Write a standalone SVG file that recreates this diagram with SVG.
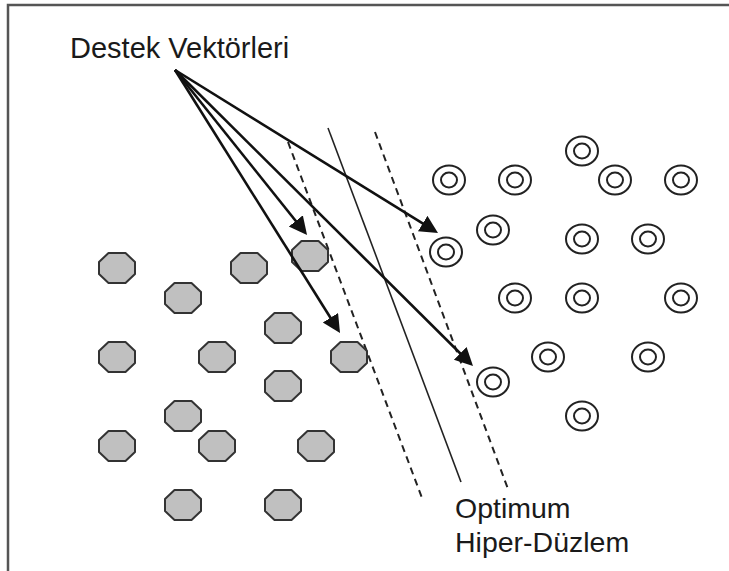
<svg xmlns="http://www.w3.org/2000/svg" xmlns:xlink="http://www.w3.org/1999/xlink" width="729" height="571" viewBox="0 0 729 571">
<style>
.lbl{font-family:"Liberation Sans",Arial,sans-serif;fill:#1a1a1a}
.oct{fill:#c0c0c0;stroke:#333;stroke-width:2;stroke-linejoin:round}
.ring{fill:none;stroke:#222;stroke-width:2}
.arr{stroke:#111;stroke-width:2.6;fill:none;marker-end:url(#ah)}
.dash{stroke:#222;stroke-width:2;stroke-dasharray:7 5;fill:none}
.solid{stroke:#222;stroke-width:1.6;fill:none}
.frame{stroke:#555;stroke-width:2.5;fill:none}
</style>
<defs>
<polygon id="octShape" class="oct" points="-8.5,-15 8.5,-15 18,-6 18,6 8.5,15 -8.5,15 -18,6 -18,-6"/>
<g id="ringShape"><ellipse class="ring" rx="16" ry="14.5"/><ellipse class="ring" rx="8" ry="7.5"/></g>
<marker id="ah" markerUnits="userSpaceOnUse" markerWidth="20" markerHeight="20" viewBox="0 0 20 20" refX="8" refY="9" orient="auto"><path d="M0,0 L18,9 L0,18 z" fill="#111"/></marker>
</defs>
<rect width="729" height="571" fill="#fff"/>
<path class="frame" d="M8,571 V5 H729"/>
<g id="label-destek"><text class="lbl" x="70" y="58" font-size="29">Destek Vektörleri</text></g>
<g id="label-optimum"><text class="lbl" x="455" y="518" font-size="28.5">Optimum</text><text class="lbl" x="455" y="552" font-size="28.5">Hiper-Düzlem</text></g>
<g id="hyperplanes">
<line class="dash" x1="288" y1="142" x2="422" y2="498"/>
<line class="solid" x1="328" y1="128" x2="461" y2="482"/>
<line class="dash" x1="375" y1="132" x2="508" y2="489"/>
</g>
<g id="class-a">
<g id="a1"><use xlink:href="#octShape" x="117" y="268"/></g>
<g id="a2"><use xlink:href="#octShape" x="249" y="268"/></g>
<g id="a3"><use xlink:href="#octShape" x="310" y="256"/></g>
<g id="a4"><use xlink:href="#octShape" x="183" y="298"/></g>
<g id="a5"><use xlink:href="#octShape" x="283" y="328"/></g>
<g id="a6"><use xlink:href="#octShape" x="117" y="357"/></g>
<g id="a7"><use xlink:href="#octShape" x="217" y="357"/></g>
<g id="a8"><use xlink:href="#octShape" x="349" y="357"/></g>
<g id="a9"><use xlink:href="#octShape" x="283" y="386"/></g>
<g id="a10"><use xlink:href="#octShape" x="183" y="416"/></g>
<g id="a11"><use xlink:href="#octShape" x="117" y="446"/></g>
<g id="a12"><use xlink:href="#octShape" x="217" y="446"/></g>
<g id="a13"><use xlink:href="#octShape" x="316" y="446"/></g>
<g id="a14"><use xlink:href="#octShape" x="183" y="505"/></g>
<g id="a15"><use xlink:href="#octShape" x="283" y="505"/></g>
</g>
<g id="class-b">
<g id="b1"><use xlink:href="#ringShape" x="582" y="151"/></g>
<g id="b2"><use xlink:href="#ringShape" x="449" y="180"/></g>
<g id="b3"><use xlink:href="#ringShape" x="515" y="180"/></g>
<g id="b4"><use xlink:href="#ringShape" x="615" y="180"/></g>
<g id="b5"><use xlink:href="#ringShape" x="681" y="180"/></g>
<g id="b6"><use xlink:href="#ringShape" x="493" y="230"/></g>
<g id="b7"><use xlink:href="#ringShape" x="446" y="252"/></g>
<g id="b8"><use xlink:href="#ringShape" x="582" y="239"/></g>
<g id="b9"><use xlink:href="#ringShape" x="648" y="239"/></g>
<g id="b10"><use xlink:href="#ringShape" x="515" y="298"/></g>
<g id="b11"><use xlink:href="#ringShape" x="582" y="298"/></g>
<g id="b12"><use xlink:href="#ringShape" x="681" y="298"/></g>
<g id="b13"><use xlink:href="#ringShape" x="548" y="357"/></g>
<g id="b14"><use xlink:href="#ringShape" x="648" y="357"/></g>
<g id="b15"><use xlink:href="#ringShape" x="493" y="382"/></g>
<g id="b16"><use xlink:href="#ringShape" x="582" y="416"/></g>
</g>
<g id="connectors">
<line class="arr" x1="175" y1="70" x2="300.8" y2="227.2"/>
<line class="arr" x1="175" y1="70" x2="334.7" y2="324.5"/>
<line class="arr" x1="175" y1="70" x2="429.5" y2="227.7"/>
<line class="arr" x1="175" y1="70" x2="465.9" y2="359"/>
</g>
</svg>
